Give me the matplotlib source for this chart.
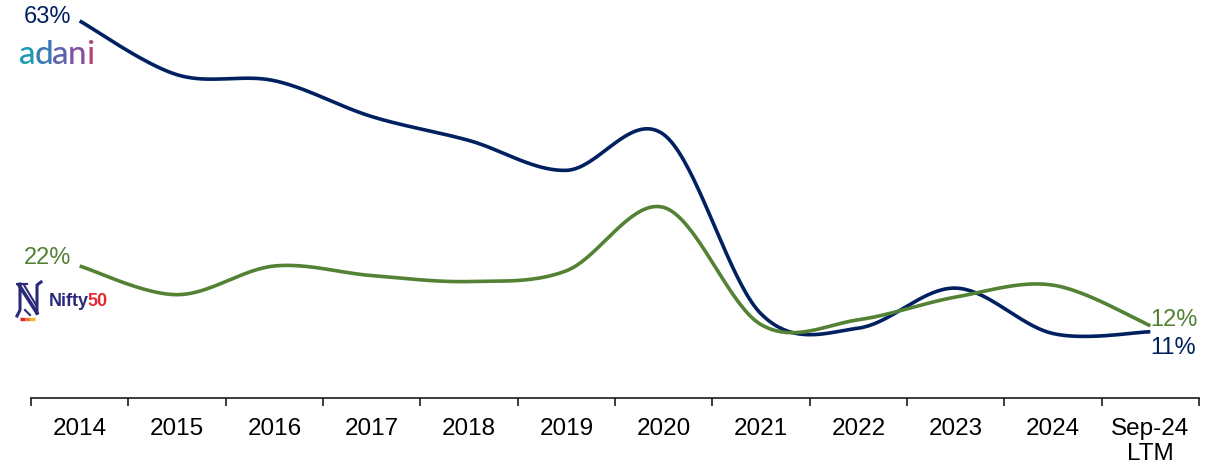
import numpy as np
import matplotlib.pyplot as plt
from matplotlib.ticker import FixedLocator

plt.rcParams['font.family'] = ['Liberation Sans', 'DejaVu Sans']

years = ['2014', '2015', '2016', '2017', '2018', '2019', '2020',
         '2021', '2022', '2023', '2024', 'Sep-24\nLTM']
adani = [63, 54, 53, 47, 43, 38, 44, 14, 11.6, 18.3, 10.7, 11]
nifty = [22, 17.2, 22, 20.4, 19.4, 21.2, 31.8, 12.2, 13, 16.8, 18.8, 12]

BLUE = '#002060'
GREEN = '#548235'


def smooth(y, n=40):
    # Bezier curve through the points, control points from neighbouring slopes
    x = np.arange(len(y), dtype=float)
    pts = np.column_stack([x, np.asarray(y, dtype=float)])
    ext = np.vstack([pts[0], pts, pts[-1]])
    out = []
    t = np.linspace(0, 1, n)[:, None]
    for i in range(len(pts) - 1):
        p0, p3 = ext[i + 1], ext[i + 2]
        p1 = p0 + (ext[i + 2] - ext[i]) / 6
        p2 = p3 - (ext[i + 3] - ext[i + 1]) / 6
        seg = ((1 - t) ** 3) * p0 + 3 * ((1 - t) ** 2) * t * p1 \
            + 3 * (1 - t) * t ** 2 * p2 + t ** 3 * p3
        out.append(seg if i == 0 else seg[1:])
    out = np.vstack(out)
    return out[:, 0], out[:, 1]


fig = plt.figure(figsize=(12.21, 4.67), dpi=100)
ax = fig.add_axes([31 / 1221, 69.5 / 467, 1168 / 1221, 397.5 / 467])

for vals, col in [(adani, BLUE), (nifty, GREEN)]:
    sx, sy = smooth(vals)
    ax.plot(sx, sy, color=col, lw=2.6, solid_capstyle='butt', zorder=3)

ax.set_xlim(-0.5, len(years) - 0.5)
ax.set_ylim(0, 66.5)

# end labels
ax.text(-0.09, adani[0] + 0.7, f'{adani[0]:.0f}%', color=BLUE, fontsize=17,
        ha='right', va='center')
ax.text(-0.09, nifty[0] + 1.4, f'{nifty[0]:.0f}%', color=GREEN, fontsize=17,
        ha='right', va='center')
ax.text(11.0, nifty[-1] + 1.0, f'{nifty[-1]:.0f}%', color=GREEN, fontsize=17,
        ha='left', va='center')
ax.text(11.0, adani[-1] - 2.7, f'{adani[-1]:.0f}%', color=BLUE, fontsize=17,
        ha='left', va='center')

# axes styling
for s in ['top', 'right', 'left']:
    ax.spines[s].set_visible(False)
ax.spines['bottom'].set_linewidth(1.2)
ax.spines['bottom'].set_color('#1a1a1a')
ax.set_yticks([])
ax.set_xticks(range(len(years)))
ax.set_xticklabels(years, fontsize=17.5, color='black', linespacing=1.15)
ax.tick_params(axis='x', which='major', length=0, pad=15)
ax.xaxis.set_minor_locator(FixedLocator(np.arange(-0.5, len(years), 1.0)))
ax.tick_params(axis='x', which='minor', length=5.5, width=1.2, color='#1a1a1a')

# adani wordmark
adani_cols = ['#1d9ab4', '#3a78b8', '#5d62ac', '#8452a2', '#b04678']
xpos = 19
for ch, c in zip('adani', adani_cols):
    t = fig.text(xpos / 1221, 1 - 55 / 467, ch, color=c, fontsize=24,
                 family=['Lato', 'DejaVu Sans'], fontweight='medium',
                 ha='left', va='center')
    fig.canvas.draw()
    bb = t.get_window_extent()
    xpos += bb.width - 1.0

# Nifty50 mark
lg = fig.add_axes([15 / 1221, 1 - 322 / 467, 28 / 1221, 42 / 467])
lg.set_xlim(0, 28)
lg.set_ylim(42, 0)
lg.axis('off')
NAVY = '#2b2a7a'
lg.plot([5, 5, 2], [4, 30, 36], color=NAVY, lw=2.2)
lg.plot([4, 22], [5, 33], color=NAVY, lw=2.6)
lg.plot([9, 21], [5, 25], color=NAVY, lw=1.5)
lg.plot([22, 22, 26], [33, 5, 2], color=NAVY, lw=2.2)
lg.plot([2, 12], [4, 4], color=NAVY, lw=1.5)
lg.plot([10, 15], [30, 35], color=NAVY, lw=1.5)
for x0, c in [(5, '#d7262d'), (10, '#f0732a'), (15, '#f7b52b')]:
    lg.plot([x0, x0 + 5], [39, 39], color=c, lw=2.4, solid_capstyle='butt')

t = fig.text(49 / 1221, 1 - 301 / 467, 'Nifty', color=NAVY, fontsize=13,
             fontweight='bold', ha='left', va='center')
fig.canvas.draw()
nx = 49 + t.get_window_extent().width - 1.5
fig.text(nx / 1221, 1 - 301 / 467, '50', color='#e32b36', fontsize=13,
         fontweight='bold', ha='left', va='center')

fig.savefig('out.png', dpi=100)
